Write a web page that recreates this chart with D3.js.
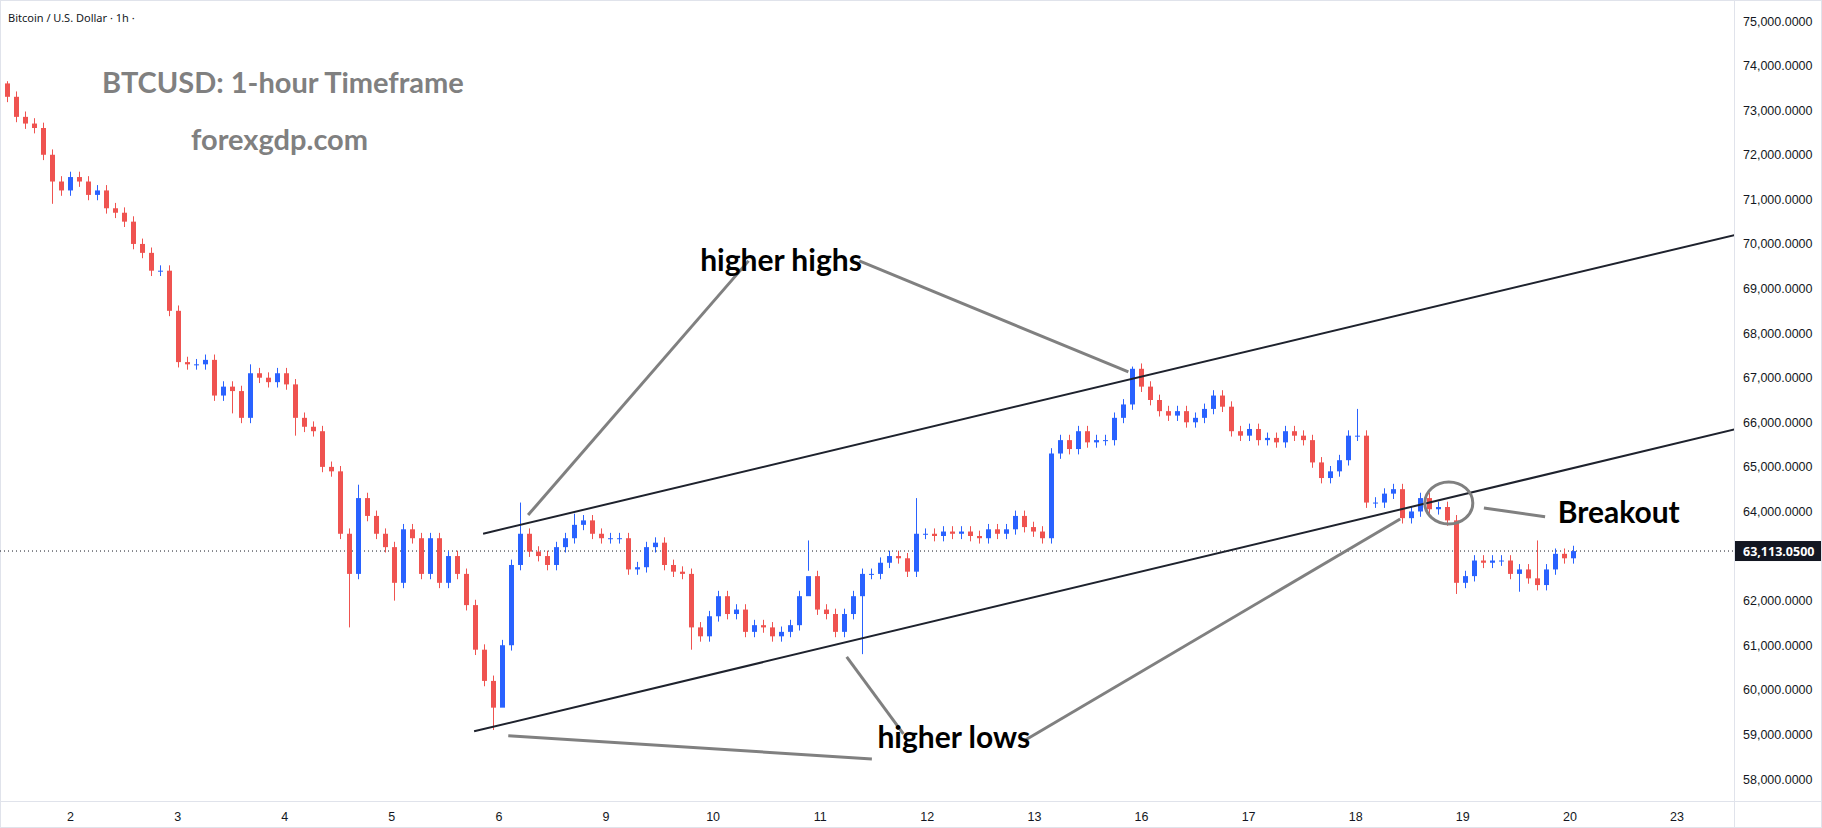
<!DOCTYPE html>
<html>
<head>
<meta charset="utf-8">
<script src="https://cdn.jsdelivr.net/npm/d3@7"></script>
<style>
  body { margin: 0; background: #fff; }
  svg { display: block; font-family: "Noto Sans", sans-serif; }
</style>
</head>
<body>
<div id="chart"></div>
<script>
// closes, one candle every 2 hours (thousands of USD)
const closes = [
  73.3,72.85,72.7,72.6,72.0,71.4,71.2,71.5,71.4,71.1,
  71.2,70.8,70.7,70.5,70.0,69.8,69.4,69.4,68.5,67.35,
  67.3,67.3,67.4,66.6,66.8,66.7,66.1,67.1,67.0,66.9,
  67.1,66.85,66.1,65.9,65.8,65.0,64.9,63.5,62.6,64.3,
  63.9,63.5,63.2,62.4,
  63.6,63.4,62.6,63.4,62.4,63.0,62.6,61.9,60.9,60.2,
  59.6,61.0,62.8,63.5,63.1,63.0,62.8,63.2,63.4,63.7,
  63.8,63.5,63.4,63.4,63.4,62.7,62.75,63.2,63.3,62.8,
  62.65,62.6,61.4,61.2,61.65,62.1,61.7,61.8,61.3,61.45,
  61.4,61.2,61.3,61.45,62.1,62.55,61.8,61.7,61.3,61.7,
  62.1,62.6,62.6,62.85,63.0,62.95,62.65,63.5,63.5,63.45,
  63.55,63.5,63.55,63.45,63.4,63.6,63.5,63.6,63.9,63.65,
  63.55,63.4,65.3,65.6,65.4,65.8,65.55,65.6,65.6,66.1,
  66.4,67.2,66.8,66.5,66.25,66.15,66.25,66.0,66.1,66.3,
  66.6,66.35,65.8,65.7,65.85,65.6,65.65,65.55,65.8,65.7,
  65.6,65.1,64.75,64.9,65.15,65.7,65.7,64.2,64.2,64.4,
  64.5,63.85,64.0,64.3,64.05,64.1,63.8,62.4,62.55,62.9,
  62.85,62.9,62.9,62.6,62.7,62.5,62.35,62.7,63.05,62.95,
  63.111
];
const firstOpen = 73.6;
// notable wick extremes by candle index
const wickHighs = {0: 73.65, 27: 67.3, 39: 64.6, 57: 64.2, 63: 63.95, 101: 64.3, 125: 67.25, 150: 66.3, 170: 63.35};
const wickLows = {5: 70.9, 25: 66.2, 32: 65.7, 38: 61.4, 43: 62.0, 54: 59.1, 55: 60.4, 76: 60.9, 89: 63.35, 95: 60.8, 161: 62.15, 168: 62.2};

// 63,000 sits under the last-price label, as in the reference
const yTicks = [58,59,60,61,62,64,65,66,67,68,69,70,71,72,73,74,75];
const dayLabels = ["2","3","4","5","6","9","10","11","12","13","16","17","18","19","20","23"];
const lastPrice = 63.11305;

const upperChannel = [[52.9, 63.5], [193.2, 70.26]];
const lowerChannel = [[51.9, 59.07], [193.2, 65.9]];
const pointers = [
  [[82.4, 69.62], [57.9, 63.92]],
  [[94.7, 69.62], [124.6, 67.13]],
  [[55.7, 58.97], [96.1, 58.45]],
  [[93.3, 60.74], [99.6, 59.01]],
  [[113.2, 58.88], [154.8, 63.83]],
  [[164.1, 64.08], [170.9, 63.88]]
];
const notes = [
  {text: "higher highs", at: [86.0, 69.4], anchor: "middle"},
  {text: "higher lows", at: [105.2, 58.7], anchor: "middle"},
  {text: "Breakout", at: [172.3, 63.75], anchor: "start"}
];
const breakoutCircle = [160.2, 64.19];

const width = 1822, height = 828;
const plotRight = 1734, plotBottom = 801;

const svg = d3.select("#chart").append("svg")
    .attr("width", width)
    .attr("height", height);

const x = d3.scaleLinear().domain([0, 174]).range([7, 1573]);
const y = d3.scaleLinear().domain([58, 75]).range([779, 21]);

// frame
svg.append("rect")
    .attr("x", 0.5).attr("y", 0.5)
    .attr("width", width - 1).attr("height", height - 1)
    .attr("fill", "none").attr("stroke", "#e0e3eb");
svg.append("line")
    .attr("x1", plotRight + 0.5).attr("x2", plotRight + 0.5)
    .attr("y1", 0).attr("y2", height)
    .attr("stroke", "#e0e3eb");
svg.append("line")
    .attr("x1", 0).attr("x2", width)
    .attr("y1", plotBottom + 0.5).attr("y2", plotBottom + 0.5)
    .attr("stroke", "#e0e3eb");

// right price axis
const yAxis = svg.append("g")
    .attr("transform", "translate(" + plotRight + ",0)")
    .call(d3.axisRight(y).tickValues(yTicks).tickSize(0).tickPadding(9)
        .tickFormat(d => d3.format(",")(d * 1000) + ".0000"));
yAxis.select(".domain").remove();
yAxis.selectAll("text").attr("font-size", 12.5).attr("fill", "#131722");

// bottom day axis
const xAxis = svg.append("g")
    .attr("transform", "translate(0," + plotBottom + ")")
    .call(d3.axisBottom(x).tickValues(dayLabels.map((d, i) => 7 + i * 11.9))
        .tickFormat((d, i) => dayLabels[i]).tickSize(0).tickPadding(11));
xAxis.select(".domain").remove();
xAxis.selectAll("text").attr("font-size", 12.5).attr("fill", "#131722");

// header
svg.append("text").attr("x", 8).attr("y", 22)
    .attr("font-size", 11).attr("fill", "#131722")
    .text("Bitcoin / U.S. Dollar · 1h ·");
svg.append("text").attr("x", 102).attr("y", 93)
    .attr("font-family", "Lato, sans-serif").attr("font-weight", "bold")
    .attr("font-size", 29).attr("fill", "#808080")
    .text("BTCUSD: 1-hour Timeframe");
svg.append("text").attr("x", 191).attr("y", 150)
    .attr("font-family", "Lato, sans-serif").attr("font-weight", "bold")
    .attr("font-size", 29).attr("fill", "#808080")
    .text("forexgdp.com");

// last price dotted line
const plot = svg.append("g");
plot.append("line")
    .attr("x1", 0).attr("x2", plotRight)
    .attr("y1", y(lastPrice)).attr("y2", y(lastPrice))
    .attr("stroke", "#131722").attr("stroke-width", 1)
    .attr("stroke-dasharray", "1,3");

// candles
const candles = closes.map((c, i) => {
    const o = i === 0 ? firstOpen : closes[i - 1];
    const hi = wickHighs[i] !== undefined ? wickHighs[i] : Math.max(o, c) + 0.12;
    const lo = wickLows[i] !== undefined ? wickLows[i] : Math.min(o, c) - 0.12;
    return {i, o, c, hi, lo};
});
const upColor = "#2962ff", downColor = "#ef5350";
const candle_g = plot.selectAll("g.candle").data(candles).enter().append("g");
candle_g.append("line")
    .attr("x1", d => Math.round(x(d.i)) + 0.5).attr("x2", d => Math.round(x(d.i)) + 0.5)
    .attr("y1", d => y(d.hi)).attr("y2", d => y(d.lo))
    .attr("stroke", d => d.c >= d.o ? upColor : downColor);
candle_g.append("rect")
    .attr("x", d => Math.round(x(d.i)) - 2)
    .attr("width", 5)
    .attr("y", d => y(Math.max(d.o, d.c)))
    .attr("height", d => Math.max(1, Math.abs(y(d.o) - y(d.c))))
    .attr("fill", d => d.c >= d.o ? upColor : downColor);

// channel lines
const line = d3.line().x(d => x(d[0])).y(d => y(d[1]));
svg.append("clipPath").attr("id", "plotClip")
    .append("rect").attr("width", plotRight).attr("height", plotBottom);
[upperChannel, lowerChannel].forEach(seg => {
    plot.append("path").attr("d", line(seg))
        .attr("clip-path", "url(#plotClip)")
        .attr("stroke", "#1e222d").attr("stroke-width", 2).attr("fill", "none");
});
pointers.forEach(seg => {
    plot.append("path").attr("d", line(seg))
        .attr("stroke", "#808080").attr("stroke-width", 3).attr("fill", "none");
});
plot.append("ellipse")
    .attr("cx", x(breakoutCircle[0])).attr("cy", y(breakoutCircle[1]))
    .attr("rx", 24).attr("ry", 21)
    .attr("fill", "none").attr("stroke", "#808080").attr("stroke-width", 3);
notes.forEach(n => {
    plot.append("text")
        .attr("x", x(n.at[0])).attr("y", y(n.at[1]))
        .attr("text-anchor", n.anchor)
        .attr("font-family", "Lato, sans-serif").attr("font-weight", "bold")
        .attr("font-size", 30).attr("fill", "#000")
        .text(n.text);
});

// last price label
svg.append("rect")
    .attr("x", plotRight + 1).attr("y", y(lastPrice) - 10)
    .attr("width", width - plotRight - 2).attr("height", 20)
    .attr("fill", "#131722");
svg.append("text")
    .attr("x", plotRight + 9).attr("y", y(lastPrice) + 4.5)
    .attr("font-size", 12.5).attr("font-weight", "bold").attr("fill", "#fff")
    .text(d3.format(",.4f")(lastPrice * 1000));
</script>
</body>
</html>
